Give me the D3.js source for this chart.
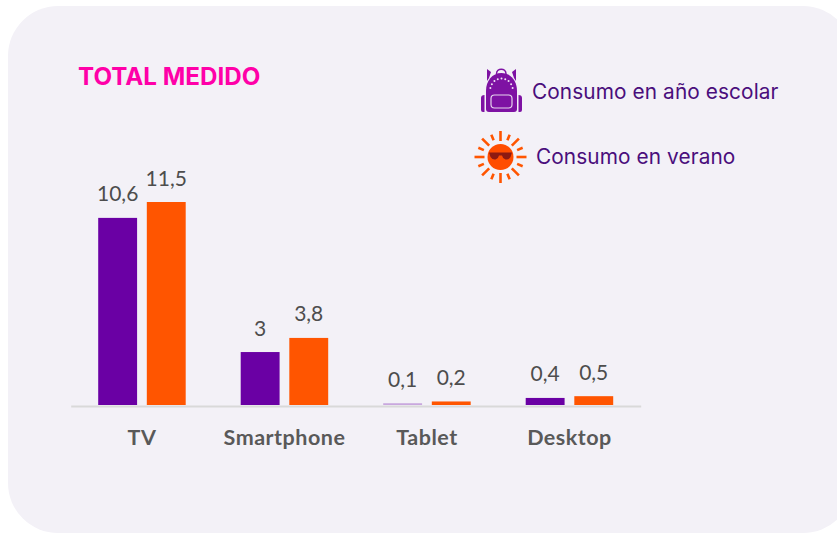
<!DOCTYPE html>
<html lang="en">
<head>
<meta charset="utf-8">
<title>Total medido</title>
<style>
html, body { margin: 0; padding: 0; background: #fff; overflow: hidden; }
svg { display: block; }
.val { font-family: Lato, sans-serif; font-size: 21px; fill: #4d4d4d; text-anchor: middle; }
.cat { font-family: Lato, sans-serif; font-size: 21.5px; font-weight: 700; fill: #595959; text-anchor: middle; letter-spacing: 0.5px; }
.leg { font-family: Inter, sans-serif; font-size: 20.8px; letter-spacing: 0.1px; fill: #4a0e7c; }
</style>
<script src="https://cdn.jsdelivr.net/npm/d3@7"></script>
</head>
<body>
<script>
var w = 837, h = 533;

var categories = ["TV", "Smartphone", "Tablet", "Desktop"];
var seriesNames = ["Consumo en año escolar", "Consumo en verano"];
var escolar = [10.6, 3, 0.1, 0.4];
var verano = [11.5, 3.8, 0.2, 0.5];
var colors = ["#6a00a4", "#ff5500"];

var svg = d3.select("body").append("svg").attr("width", w).attr("height", h);

// background panel runs off the right edge
svg.append("rect")
  .attr("x", 8).attr("y", 6)
  .attr("width", 845).attr("height", 527)
  .attr("rx", 50)
  .attr("fill", "#f3f1f7");

svg.append("text")
  .attr("x", 78).attr("y", 85)
  .attr("font-family", "Inter, sans-serif")
  .attr("font-size", 24.2).attr("font-weight", 700)
  .attr("fill", "#ff00a8")
  .text("TOTAL MEDIDO");

var x0 = d3.scaleBand().domain(categories).range([70.7, 640.7]).paddingInner(0.386).paddingOuter(0.193);
var x1 = d3.scaleBand().domain([0, 1]).range([0, x0.bandwidth()]).paddingInner(0.2);
var y = d3.scaleLinear().domain([0, 11.5]).range([405, 202]);

var fmt = function(v) { return String(v).replace(".", ","); };

var groups = svg.selectAll("g.grp")
  .data(categories)
  .enter()
  .append("g")
  .attr("class", "grp")
  .attr("transform", function(d) { return "translate(" + x0(d) + ",0)"; });

var rows = function(d, i) { return [escolar[i], verano[i]]; };

groups.selectAll("rect")
  .data(rows)
  .enter()
  .append("rect")
  .attr("x", function(d, i) { return x1(i); })
  .attr("y", function(d) { return y(d); })
  .attr("width", x1.bandwidth())
  .attr("height", function(d) { return y(0) - y(d); })
  .attr("fill", function(d, i) { return colors[i]; })
  .attr("fill-opacity", function(d) { return d < 0.15 ? 0.3 : 1; }); // thin bar is washed out in the original

groups.selectAll("text")
  .data(rows)
  .enter()
  .append("text")
  .attr("class", "val")
  .attr("x", function(d, i) { return x1(i) + x1.bandwidth() / 2; })
  .attr("y", function(d) { return y(d) - 16.5; })
  .text(fmt);

// axis line and category labels
var axis = svg.append("g")
  .attr("transform", "translate(0,406)")
  .call(d3.axisBottom(x0).tickSize(0).tickPadding(0));
axis.select(".domain").attr("stroke", "#d9d9d9").attr("stroke-width", 2);
axis.selectAll("text")
  .attr("class", "cat")
  .attr("font-family", null).attr("font-size", null)
  .attr("fill", null)
  .attr("dy", null)
  .attr("y", 39);

// legend
svg.append("text").attr("class", "leg").attr("x", 532).attr("y", 99).text(seriesNames[0]);
svg.append("text").attr("class", "leg").attr("x", 536).attr("y", 164).text(seriesNames[1]);

// backpack icon
var bag = svg.append("g").attr("transform", "translate(460,60)");
var bagColor = "#7e12a3";
bag.append("path").attr("fill", "none").attr("stroke", bagColor).attr("stroke-width", 1.5)
  .attr("d", "M36.5,14 C36.5,7.5 46,7.5 46,14");
bag.append("path").attr("fill", bagColor)
  .attr("d", "M27,9 L31,12 L29,18 L27,21 Z M56,9 L52,12 L54,18 L56,21 Z");
bag.append("path").attr("fill", bagColor)
  .attr("d", "M41.5,13 C51,13 57,21 57,31 L57,49 Q57,52 54,52 L29,52 Q26,52 26,49 L26,31 C26,21 32,13 41.5,13 Z");
bag.append("path").attr("fill", bagColor)
  .attr("d", "M24.5,35 L24.5,52 L23,52 Q21,52 21,50 L21,38 Q21,35 24.5,35 Z M58.5,35 Q62,35 62,38 L62,50 Q62,52 60,52 L58.5,52 Z");
bag.append("rect").attr("x", 31).attr("y", 35).attr("width", 21).attr("height", 13).attr("rx", 3.5)
  .attr("fill", "none").attr("stroke", "#e6d4ee").attr("stroke-width", 1.2);
d3.range(9).forEach(function(i) {
  var a = Math.PI * (1.08 + i * 0.105);
  bag.append("circle")
    .attr("cx", 41.5 + 11.5 * Math.cos(a)).attr("cy", 31 + 12.5 * Math.sin(a))
    .attr("r", 1).attr("fill", "#f0e4f5");
});

// sun icon
var sun = svg.append("g").attr("transform", "translate(500.5,157)");
d3.range(16).forEach(function(i) {
  var a = i * Math.PI / 8;
  var long = i % 2 == 0;
  sun.append("line")
    .attr("x1", (long ? 16 : 18) * Math.cos(a)).attr("y1", (long ? 16 : 18) * Math.sin(a))
    .attr("x2", (long ? 26 : 24) * Math.cos(a)).attr("y2", (long ? 26 : 24) * Math.sin(a))
    .attr("stroke", "#ff5500").attr("stroke-width", 2.6).attr("stroke-linecap", "butt");
});
sun.append("circle").attr("r", 13).attr("fill", "#ff4d00");
sun.append("path").attr("fill", "#8c1a12")
  .attr("d", "M-11.5,-4.5 L11.5,-4.5 L10,0 Q8,3 5,2.5 Q2,1.5 1.5,-1.5 L-1.5,-1.5 Q-2,1.5 -5,2.5 Q-8,3 -10,0 Z");
</script>
</body>
</html>
